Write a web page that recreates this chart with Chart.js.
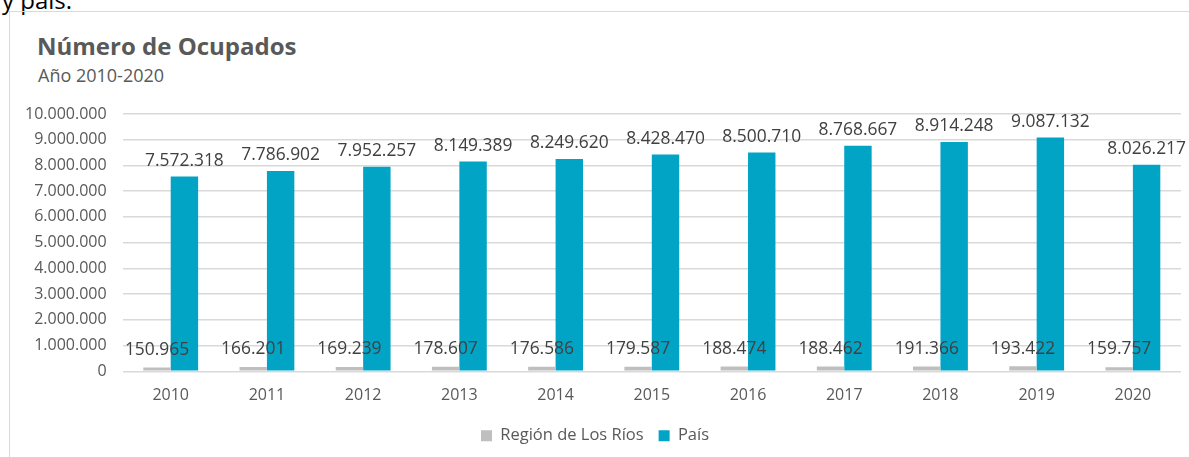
<!DOCTYPE html>
<html>
<head>
<meta charset="utf-8">
<script src="https://cdn.jsdelivr.net/npm/chart.js@4"></script>
<style>
  body { margin: 0; background: #fff; font-family: "Open Sans", sans-serif; }
  #top { position: absolute; left: 2px; top: -17px; font-size: 24px; color: #000; }
  #frame { position: absolute; left: 9px; top: 11px; width: 1200px; height: 470px; border: 1.5px solid #d9d9d9; }
  #title { position: absolute; left: 37px; top: 29px; font-size: 24px; font-weight: bold; color: #595959; }
  #subtitle { position: absolute; left: 38px; top: 63px; font-size: 18px; color: #595959; }
  #wrap { position: absolute; left: 0; top: 0; width: 1189px; height: 457px; }
</style>
</head>
<body>
<div id="top">y país.</div>
<div id="frame"></div>
<div id="title">Número de Ocupados</div>
<div id="subtitle">Año 2010-2020</div>
<div id="wrap"><canvas id="chart"></canvas></div>
<script>
const years = ['2010', '2011', '2012', '2013', '2014', '2015', '2016', '2017', '2018', '2019', '2020'];
const region = [150965, 166201, 169239, 178607, 176586, 179587, 188474, 188462, 191366, 193422, 159757];
const pais = [7572318, 7786902, 7952257, 8149389, 8249620, 8428470, 8500710, 8768667, 8914248, 9087132, 8026217];

function fmt(v) {
  return String(v).replace(/\B(?=(\d{3})+(?!\d))/g, '.');
}

// etiquetas de datos sobre cada barra
const valueLabels = {
  id: 'valueLabels',
  afterDatasetsDraw(chart) {
    const ctx = chart.ctx;
    ctx.save();
    ctx.font = '17.4px "Open Sans"';
    ctx.fillStyle = '#404040';
    ctx.textAlign = 'center';
    ctx.textBaseline = 'bottom';
    chart.data.datasets.forEach((ds, i) => {
      const off = i === 0 ? 9 : 7;
      chart.getDatasetMeta(i).data.forEach((bar, j) => {
        ctx.fillText(fmt(ds.data[j]), bar.x, bar.y - off);
      });
    });
    ctx.restore();
  }
};

const ctx = document.getElementById('chart').getContext('2d');
new Chart(ctx, {
  type: 'bar',
  data: {
    labels: years,
    datasets: [
      { label: 'Región de Los Ríos', data: region, backgroundColor: '#bfbfbf' },
      { label: 'País', data: pais, backgroundColor: '#02a4c6' }
    ]
  },
  options: {
    responsive: true,
    maintainAspectRatio: false,
    animation: false,
    layout: { padding: { left: 9, right: 8, top: 114, bottom: 3 } },
    datasets: { bar: { categoryPercentage: 0.57, barPercentage: 1.0 } },
    scales: {
      x: {
        grid: { display: false },
        border: { display: false },
        ticks: { color: '#595959', font: { family: 'Open Sans', size: 16 }, padding: 7 }
      },
      y: {
        min: 0,
        max: 10000000,
        grid: { color: '#d9d9d9', lineWidth: 1.5, drawTicks: false },
        border: { display: false },
        ticks: {
          stepSize: 1000000,
          color: '#595959',
          font: { family: 'Open Sans', size: 16 },
          padding: 16,
          callback: v => fmt(v)
        }
      }
    },
    plugins: {
      legend: {
        position: 'bottom',
        labels: { boxWidth: 11, boxHeight: 11, color: '#595959', font: { family: 'Open Sans', size: 16.5 }, padding: 15 }
      },
      tooltip: { enabled: false }
    }
  },
  plugins: [valueLabels]
});
</script>
</body>
</html>
